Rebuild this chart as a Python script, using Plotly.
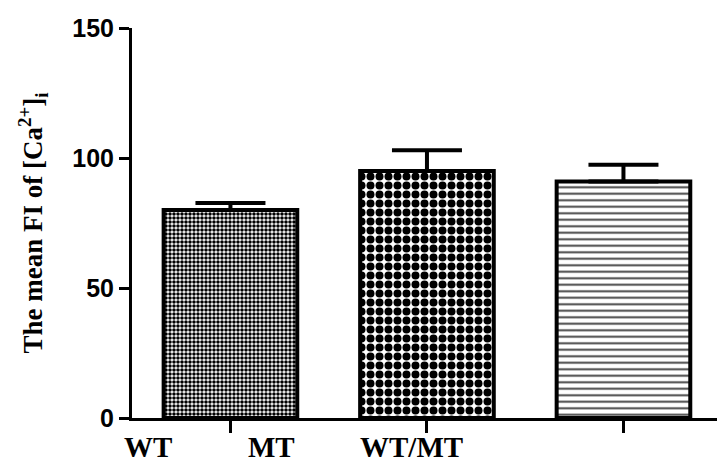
import plotly.graph_objects as go

# ---- data ----
categories = ["WT", "MT", "WT/MT"]
means = [80, 95, 91]
errors_up = [2.7, 8, 6.4]
y_ticks = [0, 50, 100, 150]
label_x = [-0.42, 0.21, 0.92]   # where the (misaligned) category labels sit, in category units

# ---- styles ----
patterns = [
    dict(shape=".", size=4, solidity=0.62, fgcolor="black", bgcolor="white",
         fgopacity=1, fillmode="overlay"),
    dict(shape=".", size=9, solidity=0.62, fgcolor="black", bgcolor="white",
         fgopacity=1, fillmode="overlay"),
    dict(shape="-", size=6.5, solidity=0.3, fgcolor="#444444", bgcolor="white",
         fgopacity=1, fillmode="overlay"),
]

fig = go.Figure()
for i, (m, e, p) in enumerate(zip(means, errors_up, patterns)):
    fig.add_trace(go.Bar(
        x=[i], y=[m], width=0.68, name=categories[i],
        marker=dict(color="white", pattern=p, line=dict(color="black", width=4)),
        error_y=dict(type="data", array=[e], arrayminus=[0], symmetric=False,
                     color="black", thickness=4, width=35),
        showlegend=False,
    ))

for lx, lab in zip(label_x, categories):
    fig.add_annotation(x=lx, xref="x", y=-0.075, yref="paper", yanchor="middle",
                       text=lab, showarrow=False,
                       font=dict(family="Liberation Serif", size=29, color="black", weight="bold"))

fig.update_layout(
    width=717, height=464,
    margin=dict(l=132, r=0, t=28, b=46),
    plot_bgcolor="white", paper_bgcolor="white",
    bargap=0.3,
    xaxis=dict(range=[-0.501, 2.476], showline=True, linecolor="black", linewidth=3,
               tickmode="array", tickvals=[0, 1, 2], ticks="outside", ticklen=12,
               tickwidth=3, tickcolor="black", showticklabels=False,
               showgrid=False, zeroline=False),
    yaxis=dict(range=[0, 150], showline=True, linecolor="black", linewidth=3,
               tickmode="array", tickvals=y_ticks, ticks="outside", ticklen=10,
               tickwidth=3, tickcolor="black", showgrid=False, zeroline=False,
               tickfont=dict(family="Liberation Sans", size=25, color="black", weight="bold"),
               title=dict(text="The mean FI of [Ca<sup>2+</sup>]<sub>i</sub>", standoff=22,
                          font=dict(family="Liberation Serif", size=27, color="black", weight="bold"))),
)

fig.write_html("out.html", config={"displayModeBar": False})

# remove the browser's default page margin so the figure sits at the top-left corner
with open("out.html", "r", encoding="utf-8") as f:
    html = f.read()
html = html.replace("<body>", '<body style="margin:0;padding:0;">', 1)
with open("out.html", "w", encoding="utf-8") as f:
    f.write(html)
